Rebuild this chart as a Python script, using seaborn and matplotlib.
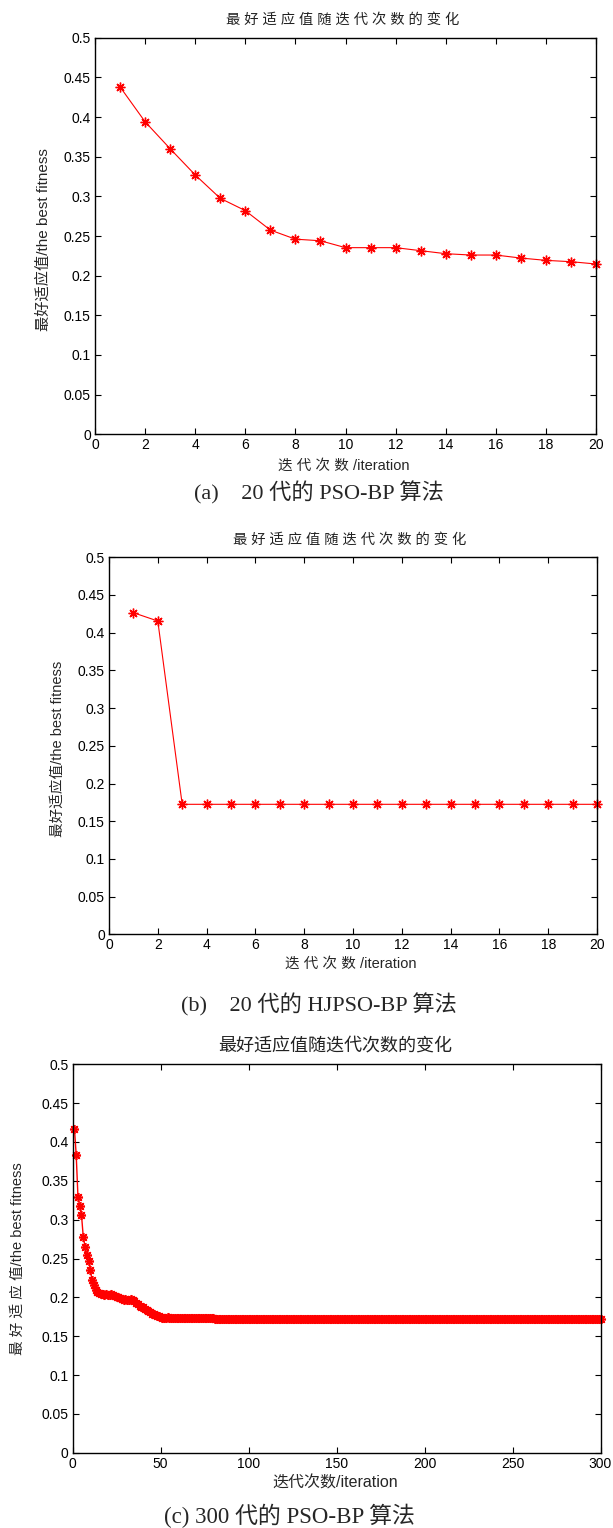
import numpy as np
import pandas as pd
import seaborn as sns
import matplotlib
matplotlib.use("Agg")
import matplotlib.pyplot as plt
from matplotlib.ticker import FuncFormatter

# ---------------- data ----------------
iter_a = list(range(1, 21))
fit_a = [0.438, 0.394, 0.360, 0.327, 0.2975, 0.282, 0.2575, 0.246, 0.244, 0.2353,
         0.2353, 0.2353, 0.2315, 0.2277, 0.226, 0.226, 0.2222, 0.2193, 0.2176, 0.2147]

iter_b = list(range(1, 21))
fit_b = [0.4265, 0.4155] + [0.1724] * 18

iter_c = list(range(1, 301))
fit_c_head = [0.4167, 0.383, 0.329, 0.317, 0.306, 0.278, 0.265, 0.254, 0.247, 0.235,
              0.222, 0.216, 0.210, 0.207, 0.205, 0.204, 0.204, 0.203, 0.204, 0.203,
              0.203, 0.204, 0.203, 0.202, 0.200, 0.200, 0.199, 0.198, 0.197, 0.198,
              0.197, 0.197, 0.198, 0.196, 0.195, 0.193, 0.191, 0.189, 0.188, 0.187,
              0.185, 0.184, 0.182, 0.181, 0.179, 0.178, 0.177, 0.176, 0.176, 0.175,
              0.174, 0.174, 0.174, 0.175, 0.174, 0.174, 0.174, 0.173, 0.174, 0.174,
              0.174, 0.174, 0.173, 0.174, 0.174, 0.173, 0.173, 0.174, 0.173, 0.173,
              0.173, 0.173, 0.173, 0.173, 0.173, 0.173, 0.173, 0.173, 0.173, 0.173]
fit_c_tail = [0.172] * 220
fit_c = fit_c_head + fit_c_tail

yticks = [0, 0.05, 0.1, 0.15, 0.2, 0.25, 0.3, 0.35, 0.4, 0.45, 0.5]
xticks_ab = [0, 2, 4, 6, 8, 10, 12, 14, 16, 18, 20]
xticks_c = [0, 50, 100, 150, 200, 250, 300]

title_ab = "最 好 适 应 值 随 迭 代 次 数 的 变 化"
title_c = "最好适应值随迭代次数的变化"
xlabel_ab = "迭 代 次 数 /iteration"
xlabel_c = "迭代次数/iteration"
ylabel_ab = "最好适应值/the best fitness"
ylabel_c = "最 好 适 应 值/the best fitness"
caption_a = "(a)    20 代的 PSO-BP 算法"
caption_b = "(b)    20 代的 HJPSO-BP 算法"
caption_c = "(c) 300 代的 PSO-BP 算法"

# ---------------- style ----------------
sns.set_theme(style="ticks")
plt.rcParams['font.family'] = ['Liberation Sans', 'Noto Sans CJK SC', 'DejaVu Sans']
plt.rcParams['axes.unicode_minus'] = False

W, H = 613, 1528
fig = plt.figure(figsize=(W / 100, H / 100), dpi=100)
fig.patch.set_facecolor('white')

SANS = ['Liberation Sans', 'Noto Sans CJK SC']
SERIF = ['Liberation Serif', 'Noto Sans CJK SC']
MARK = (8, 2, 0)


def px(x, y):
    return x / W, 1 - y / H


def make_axes(box, xs, ys, xticks, xmax, markersize, mew, lw):
    l, t, r, b = box
    ax = fig.add_axes([l / W, 1 - b / H, (r - l) / W, (b - t) / H])
    df = pd.DataFrame({"iteration": xs, "fitness": ys})
    sns.lineplot(data=df, x="iteration", y="fitness", ax=ax, color="red",
                 linewidth=lw, marker=MARK, markersize=markersize,
                 markeredgecolor="red", markeredgewidth=mew, clip_on=False,
                 errorbar=None)
    ax.set_xlim(0, xmax)
    ax.set_ylim(0, 0.5)
    ax.set_xticks(xticks)
    ax.set_yticks(yticks)
    ax.yaxis.set_major_formatter(FuncFormatter(lambda v, p: "%g" % v))
    ax.xaxis.set_major_formatter(FuncFormatter(lambda v, p: "%g" % v))
    ax.tick_params(direction="in", length=4, width=0.8, top=True, right=True,
                   labelsize=10, pad=3, colors="black")
    for s in ax.spines.values():
        s.set_visible(True)
        s.set_linewidth(1.0)
        s.set_color("black")
    for lab in ax.get_xticklabels() + ax.get_yticklabels():
        lab.set_family(SANS)
    ax.set_xlabel("")
    ax.set_ylabel("")
    ax.set_facecolor("white")
    return ax


# panel (a)
make_axes((95, 37.7, 596, 434.3), iter_a, fit_a, xticks_ab, 20, 7, 1.0, 0.8)
fig.text(*px(343, 20), title_ab, ha="center", va="center", fontsize=10.3, family=SANS, color="#222222")
fig.text(*px(344, 466), xlabel_ab, ha="center", va="center", fontsize=10.5, family=SANS)
fig.text(*px(44, 240), ylabel_ab, ha="center", va="center", rotation=90, fontsize=11, family=SANS)
fig.text(*px(319, 493), caption_a, ha="center", va="center", fontsize=16, family=SERIF)

# panel (b)
make_axes((109, 557.3, 597, 934.3), iter_b, fit_b, xticks_ab, 20, 7, 1.0, 0.8)
fig.text(*px(350, 540), title_ab, ha="center", va="center", fontsize=10.3, family=SANS, color="#222222")
fig.text(*px(351, 964), xlabel_ab, ha="center", va="center", fontsize=10.5, family=SANS)
fig.text(*px(58, 749), ylabel_ab, ha="center", va="center", rotation=90, fontsize=10.5, family=SANS)
fig.text(*px(319, 1005), caption_b, ha="center", va="center", fontsize=16, family=SERIF)

# panel (c)
make_axes((72.7, 1064.3, 600.5, 1452.7), iter_c, fit_c, xticks_c, 300, 6.5, 1.2, 1.0)
fig.text(*px(335, 1046), title_c, ha="center", va="center", fontsize=13, family=SANS, color="#222222")
fig.text(*px(335, 1483), xlabel_c, ha="center", va="center", fontsize=11.5, family=SANS)
fig.text(*px(18, 1259), ylabel_c, ha="center", va="center", rotation=90, fontsize=10.5, family=SANS)
fig.text(*px(289, 1516), caption_c, ha="center", va="center", fontsize=16.5, family=SERIF)

fig.savefig("out.png", dpi=100, facecolor="white")
